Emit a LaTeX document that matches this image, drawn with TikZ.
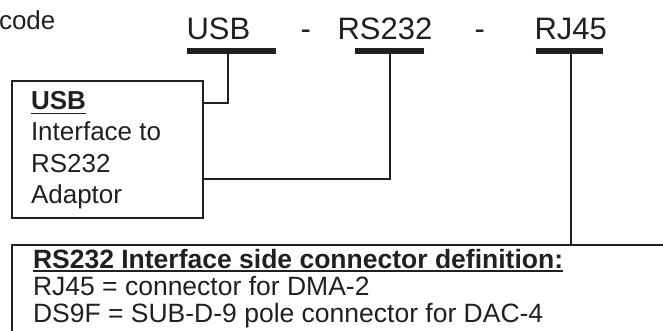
\documentclass[tikz,border=0pt]{standalone}
\usepackage{fontspec}
\setmainfont{Liberation Sans}
\definecolor{ink}{RGB}{35,31,32}
\begin{document}
\begin{tikzpicture}[x=1pt,y=-1pt,
  every node/.style={inner sep=0pt,outer sep=0pt,text=ink,anchor=base west},
  big/.style={font=\fontsize{31}{31}\selectfont},
  mid/.style={font=\fontsize{26}{30}\selectfont},
  midb/.style={font=\fontsize{26}{30}\selectfont\bfseries},
  bar/.style={draw=ink,line width=6pt},
  wire/.style={draw=ink,line width=2pt},
  frame/.style={draw=ink,line width=2pt},
  uline/.style={draw=ink,line width=1.8pt}]
\useasboundingbox (0,0) rectangle (663,331);
\clip (0,0) rectangle (663,331);
% top code
\node[mid] (code) at (-1,30) {code};
\node[big] (tusb) at (186.5,40) {USB};
\node[big] (d1) at (300.5,40) {-};
\node[big] (trs) at (337.5,40) {RS232};
\node[big] (d2) at (474.5,40) {-};
\node[big] (trj) at (534.5,40) {RJ45};
% bars
\coordinate (busbL) at (187,51); \coordinate (busbR) at (276,51);
\coordinate (brsL) at (355,51); \coordinate (brsR) at (424,51);
\coordinate (brjL) at (536,51); \coordinate (brjR) at (603,51);
\draw[bar] (busbL) -- (busbR);
\draw[bar] (brsL) -- (brsR);
\draw[bar] (brjL) -- (brjR);
% USB box
\coordinate (b1nw) at (12,81); \coordinate (b1se) at (203,218);
\draw[frame] (b1nw) rectangle (b1se);
\node[midb] (u1) at (31,110) {USB};
\draw[uline] ([yshift=-3.5pt]u1.base west) -- ([yshift=-3.5pt]u1.base east);
\node[mid] (u2) at (31,141) {Interface to};
\node[mid] (u3) at (31,172) {RS232};
\node[mid] (u4) at (31,203) {Adaptor};
% bottom box
\coordinate (b2nw) at (12,245); \coordinate (b2se) at (680,360);
\draw[frame] (b2nw) rectangle (b2se);
\node[midb,font=\fontsize{26.5}{30}\selectfont\bfseries] (h1) at (33,268) {RS232 Interface side connector definition:};
\draw[uline] ([yshift=-3pt]h1.base west) -- ([yshift=-3pt]h1.base east);
\node[mid,font=\fontsize{26.5}{30}\selectfont] (h2) at (33,295) {RJ45 = connector for DMA-2};
\node[mid,font=\fontsize{26.5}{30}\selectfont] (h3) at (33,322) {DS9F = SUB-D-9 pole connector for DAC-4};
% connectors
\coordinate (c1a) at (228,54); \coordinate (c1b) at (228,103); \coordinate (c1c) at (203,103);
\draw[wire] (c1a) -- (c1b) -- (c1c);
\coordinate (c2a) at (390,54); \coordinate (c2b) at (390,179); \coordinate (c2c) at (203,179);
\draw[wire] (c2a) -- (c2b) -- (c2c);
\coordinate (c3a) at (571,54); \coordinate (c3b) at (571,245);
\draw[wire] (c3a) -- (c3b);
\end{tikzpicture}
\end{document}
